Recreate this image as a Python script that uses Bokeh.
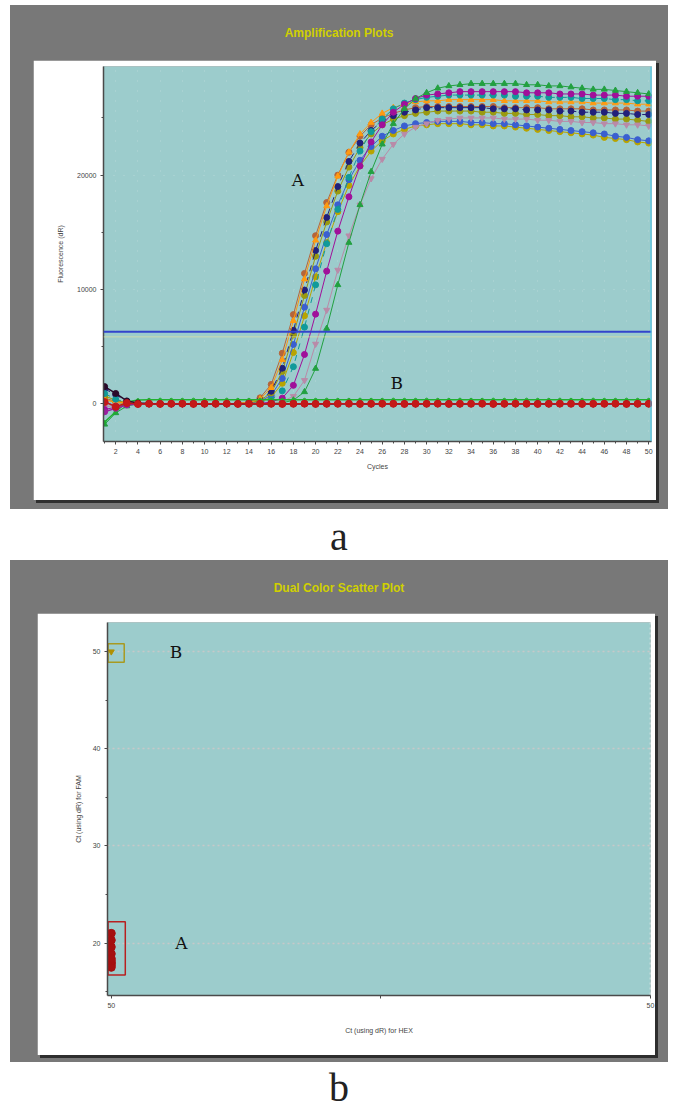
from bokeh.plotting import figure
from bokeh.models import Range1d, FixedTicker, Span, Label, Div, Spacer
from bokeh.layouts import column, row
from bokeh.embed import file_html
from bokeh.resources import INLINE

# ---------------- data: amplification plot ----------------
cycles = list(range(1, 51))
x_tick_labels = list(range(2, 51, 2))
y_ticks_amp = [0, 10000, 20000]
y_minor_amp = [5000, 15000, 25000]
threshold = 6300

orange = [350, 150, 60, 0, 0, 0, 0, 0, 0, 0,
          0, 0, 20, 120, 420, 1400, 3840, 7260, 10900, 14300,
          17300, 19900, 22000, 23600, 24600, 25400, 25900, 26200, 26400, 26500,
          26500, 26600, 26600, 26600, 26600, 26600, 26500, 26500, 26500, 26500,
          26400, 26400, 26400, 26400, 26300, 26300, 26300, 26300, 26200, 26200]
navy = [1300, 800, 200, 0, 0, 0, 0, 0, 0, 0,
        0, 0, 10, 90, 310, 1090, 3110, 6420, 9950, 13400,
        16300, 19000, 21200, 22800, 23900, 24700, 25200, 25500, 25700, 25900,
        25900, 25900, 25900, 25900, 25900, 25800, 25800, 25800, 25700, 25700,
        25700, 25600, 25600, 25500, 25500, 25500, 25400, 25400, 25300, 25300]
olive = [700, 300, 100, 0, 0, 0, 0, 0, 0, 0,
         0, 0, 10, 80, 280, 950, 2820, 6020, 9470, 12900,
         15900, 18600, 20700, 22400, 23600, 24400, 24900, 25200, 25400, 25500,
         25600, 25600, 25600, 25600, 25500, 25500, 25400, 25400, 25300, 25300,
         25200, 25200, 25100, 25100, 25000, 25000, 24900, 24900, 24800, 24700]
brown = [500, 200, 50, 0, 0, 0, 0, 0, 0, 0,
         0, 10, 40, 160, 520, 1690, 4420, 7800, 11400, 14700,
         17600, 20000, 22000, 23400, 24400, 25000, 25400, 25700, 25900, 26000,
         26000, 26000, 26000, 26000, 26000, 26000, 25900, 25900, 25900, 25900,
         25800, 25800, 25800, 25800, 25700, 25700, 25700, 25700, 25600, 25600]
teal = [900, 400, 100, 0, 0, 0, 0, 0, 0, 0,
        0, 0, 0, 10, 90, 320, 1130, 3240, 6700, 10400,
        14000, 17000, 19800, 22100, 23800, 24900, 25800, 26300, 26600, 26800,
        26900, 27000, 27000, 27000, 27000, 27000, 27000, 26900, 26900, 26900,
        26800, 26800, 26800, 26700, 26700, 26700, 26600, 26600, 26500, 26500]
magenta = [-500, -300, -50, 0, 0, 0, 0, 0, 0, 0,
           0, 0, 0, 0, 30, 150, 490, 1610, 4310, 7840,
           11600, 15100, 18100, 20800, 22900, 24400, 25500, 26200, 26700, 27000,
           27100, 27200, 27300, 27300, 27300, 27300, 27300, 27300, 27200, 27200,
           27200, 27100, 27100, 27100, 27000, 27000, 27000, 26900, 26900, 26900]
green = [-1800, -800, -200, 0, 0, 0, 0, 0, 0, 0,
         0, 0, 0, 0, 0, 10, 80, 310, 1040, 3080,
         6580, 10400, 14100, 17400, 20300, 22700, 24500, 25800, 26700, 27200,
         27600, 27800, 27900, 28000, 28000, 28000, 28000, 28000, 27900, 27900,
         27800, 27800, 27700, 27600, 27500, 27500, 27400, 27300, 27200, 27100]
blue = [200, -200, 0, 0, 0, 0, 0, 0, 0, 0,
        0, 0, 10, 60, 220, 740, 2220, 5190, 8450, 11800,
        14800, 17400, 19600, 21300, 22500, 23400, 23900, 24300, 24500, 24600,
        24700, 24700, 24700, 24600, 24600, 24500, 24500, 24400, 24300, 24200,
        24100, 24000, 23900, 23800, 23700, 23600, 23400, 23300, 23100, 23000]
yellow = [400, 100, 0, 0, 0, 0, 0, 0, 0, 0,
          0, 0, 10, 50, 170, 560, 1790, 4480, 7690, 11100,
          14100, 16800, 19100, 20800, 22100, 23000, 23600, 24000, 24300, 24400,
          24500, 24500, 24500, 24400, 24400, 24300, 24300, 24200, 24100, 24000,
          23900, 23800, 23700, 23600, 23500, 23300, 23200, 23100, 22900, 22800]
violet = [-300, -100, 0, 0, 0, 0, 0, 0, 0, 0,
          0, 0, 0, 0, 10, 50, 200, 650, 2050, 5230,
          8200, 11700, 14700, 17400, 19700, 21400, 22700, 23600, 24200, 24500,
          24800, 24900, 25000, 25000, 25000, 25000, 24900, 24900, 24900, 24800,
          24800, 24700, 24700, 24600, 24600, 24500, 24500, 24400, 24400, 24300]

b_green = [-1600, -700, 150, 320, 350, 360, 350, 350, 360, 350,
           350, 360, 350, 350, 360, 350, 350, 360, 350, 350,
           360, 350, 350, 360, 350, 350, 360, 350, 350, 360,
           350, 350, 360, 350, 350, 360, 350, 350, 360, 350,
           350, 360, 350, 350, 360, 350, 350, 360, 350, 350]
b_purple = [-700, -400, -100, -20, 0, 10, 0, -10, 0, 10,
            0, -10, 0, 10, 0, -10, 0, 10, 0, -10,
            0, 10, 0, -10, 0, 10, 0, -10, 0, 10,
            0, -10, 0, 10, 0, -10, 0, 10, 0, -10,
            0, 10, 0, -10, 0, 10, 0, -10, 0, 0]
b_dark = [1500, 900, 250, 60, 20, 0, 10, 0, -10, 0,
          10, 0, -10, 0, 10, 0, -10, 0, 10, 0,
          -10, 0, 10, 0, -10, 0, 10, 0, -10, 0,
          10, 0, -10, 0, 10, 0, -10, 0, 10, 0,
          -10, 0, 10, 0, -10, 0, 10, 0, -10, 0]
b_red = [150, -250, 60, -20, 10, -10, 0, 10, -10, 0,
         0, 10, -10, 0, 10, 0, -10, 0, 10, -10,
         0, 0, 10, -10, 0, 10, 0, -10, 0, 0,
         10, -10, 0, 0, 10, -10, 0, 10, 0, -10,
         0, 10, 0, -10, 0, 0, 10, -10, 0, 0]

# ---------------- data: dual colour scatter ----------------
hex_ct_a = [50, 50, 50, 50, 50, 50, 50, 50, 50, 50]
fam_ct_a = [17.7, 17.9, 18.0, 17.5, 18.9, 19.6, 21.0, 18.2, 18.4, 20.3]
hex_ct_b = [50]
fam_ct_b = [50]
y_ticks_dual = [20, 30, 40, 50]
y_minor_dual = [15, 25, 35, 45]
x_ticks_dual = [50, 50.5, 51]

# ---------------- styling ----------------
CYAN = "#9ccccc"
GRAY = "#787878"
AX = "#4a4a4a"
FONT = "Liberation Sans"


def style_axes(p):
    for ax in (p.xaxis[0], p.yaxis[0]):
        ax.axis_line_color = AX
        ax.axis_line_width = 1.5
        ax.major_tick_line_color = AX
        ax.minor_tick_line_color = AX
        ax.major_tick_in = 0
        ax.major_tick_out = 3
        ax.minor_tick_in = 0
        ax.minor_tick_out = 2
        ax.major_label_text_font = FONT
        ax.major_label_text_font_size = "7px"
        ax.major_label_text_color = "#444444"
        ax.axis_label_text_font = FONT
        ax.axis_label_text_font_size = "7px"
        ax.axis_label_text_font_style = "normal"
        ax.axis_label_text_color = "#444444"
        ax.major_label_standoff = 4


# ---------------- amplification plot ----------------
p1 = figure(width=623, height=440, x_range=Range1d(0.9, 50.25), y_range=Range1d(-3300, 29500),
            output_backend="svg", toolbar_location=None,
            min_border_left=70, min_border_right=5, min_border_top=6, min_border_bottom=59,
            background_fill_color=CYAN, border_fill_color="white",
            outline_line_color="#a9c2c2",
            styles={"box-shadow": "3px 3px 0 #2e2e2e"})
style_axes(p1)
p1.xaxis.ticker = FixedTicker(ticks=x_tick_labels, minor_ticks=cycles)
p1.yaxis.ticker = FixedTicker(ticks=y_ticks_amp, minor_ticks=y_minor_amp)
p1.xaxis.axis_label = "Cycles"
p1.yaxis.axis_label = "Fluorescence (dR)"
p1.xaxis.axis_label_standoff = 6
p1.yaxis.axis_label_standoff = 10
p1.xgrid.grid_line_color = "#c9e0e0"
p1.xgrid.grid_line_dash = "1 9"
p1.xgrid.grid_line_alpha = 0.6
p1.ygrid.grid_line_color = "#c9e0e0"
p1.ygrid.grid_line_dash = "1 9"
p1.ygrid.grid_line_alpha = 0.6

p1.add_layout(Span(location=threshold, dimension="width", line_color="#3344cc", line_width=2))
p1.add_layout(Span(location=threshold - 450, dimension="width", line_color="#e0e0a0",
                   line_width=1, line_alpha=0.7))
p1.add_layout(Span(location=p1.x_range.end, dimension="height", line_color="#44c8ee", line_width=2))

series_a = [
    (brown, "#b5653a", "circle", "solid"),
    (yellow, "#b8a400", "circle", "solid"),
    (blue, "#3a5fd0", "circle", "solid"),
    (olive, "#9a9a10", "circle", "solid"),
    (navy, "#22207a", "circle", "dashed"),
    (orange, "#ff9a10", "triangle", "solid"),
    (violet, "#b98aa8", "inverted_triangle", "solid"),
    (teal, "#109a9a", "circle", "dashed"),
    (magenta, "#a0109a", "circle", "solid"),
    (green, "#22a040", "triangle", "solid"),
]
for vals, col, mk, dash in series_a:
    p1.line(cycles, vals, line_color=col, line_width=1, line_dash=dash)
    p1.scatter(cycles, vals, marker=mk, size=6, fill_color=col, line_color=col)

series_b = [
    (b_green, "#20b030", "circle", 3),
    (b_purple, "#9b1fa0", "circle", 6),
    (b_dark, "#2a0a2a", "circle", 6),
    (b_red, "#c41818", "circle", 7),
]
for vals, col, mk, sz in series_b:
    p1.line(cycles, vals, line_color=col, line_width=1.5)
    p1.scatter(cycles, vals, marker=mk, size=sz, fill_color=col, line_color=col)

p1.add_layout(Label(x=18.4, y=19600, text="A", text_font="DejaVu Serif", text_font_size="17px",
                    text_color="#111111", text_align="center", text_baseline="middle"))
p1.add_layout(Label(x=27.3, y=1800, text="B", text_font="DejaVu Serif", text_font_size="17px",
                    text_color="#111111", text_align="center", text_baseline="middle"))

# ---------------- dual colour scatter ----------------
p2 = figure(width=618, height=442, x_range=Range1d(49.993, 51.0), y_range=Range1d(14.6, 53.0),
            output_backend="svg", toolbar_location=None,
            min_border_left=70, min_border_right=5, min_border_top=9, min_border_bottom=60,
            background_fill_color=CYAN, border_fill_color="white", outline_line_color=None,
            styles={"box-shadow": "3px 3px 0 #2e2e2e"})
style_axes(p2)
p2.xaxis.ticker = FixedTicker(ticks=x_ticks_dual)
p2.xaxis.major_label_overrides = {50.5: "", 51: "50"}
p2.yaxis.ticker = FixedTicker(ticks=y_ticks_dual, minor_ticks=y_minor_dual)
p2.xaxis.axis_label = "Ct (using dR) for HEX"
p2.yaxis.axis_label = "Ct (using dR) for FAM"
p2.xaxis.axis_label_standoff = 16
p2.yaxis.axis_label_standoff = 8
p2.xgrid.grid_line_color = None
p2.ygrid.grid_line_color = "#c8c8c8"
p2.ygrid.grid_line_dash = "2 3"
p2.ygrid.grid_line_width = 1.5
p2.add_layout(Span(location=p2.x_range.end, dimension="height", line_color="#eeeeee",
                   line_dash="2 3", line_width=1.5))

p2.quad(left=[min(hex_ct_a) - 0.006], right=[min(hex_ct_a) + 0.026],
        bottom=[min(fam_ct_a) - 0.8], top=[max(fam_ct_a) + 1.2],
        fill_color=None, line_color="#b82020", line_width=1.5)
p2.quad(left=[min(hex_ct_b) - 0.006], right=[min(hex_ct_b) + 0.024],
        bottom=[min(fam_ct_b) - 1.1], top=[max(fam_ct_b) + 0.8],
        fill_color=None, line_color="#a89a20", line_width=1.5)
p2.scatter(hex_ct_a, fam_ct_a, marker="circle", size=8, fill_color="#a51010", line_color="#a51010")
p2.scatter(hex_ct_b, fam_ct_b, marker="inverted_triangle", size=6, fill_color="#b09000",
           line_color="#b09000")

p2.add_layout(Label(x=50.12, y=50, text="B", text_font="DejaVu Serif", text_font_size="17px",
                    text_color="#111111", text_align="center", text_baseline="middle"))
p2.add_layout(Label(x=50.13, y=20, text="A", text_font="DejaVu Serif", text_font_size="17px",
                    text_color="#111111", text_align="center", text_baseline="middle"))

# ---------------- layout ----------------
def title_div(txt, h):
    return Div(text=('<div style="text-align:center;color:#d0d000;font-family:\'Liberation Sans\',Arial;'
                     'font-size:12px;font-weight:bold;padding-top:20px;width:658px">' + txt + '</div>'),
               width=658, height=h, margin=(0, 0, 0, 0))


def letter_div(txt, h, pad):
    return Div(text=('<div style="text-align:center;color:#222;font-family:\'Liberation Serif\';'
                     'font-size:40px;line-height:40px;padding-top:' + str(pad) + 'px;width:658px">'
                     + txt + '</div>'),
               width=658, height=h, margin=(0, 0, 0, 0))


panel_a = column(
    title_div("Amplification Plots", 55),
    row(Spacer(width=23, height=440, margin=(0, 0, 0, 0)), p1,
        Spacer(width=12, height=440, margin=(0, 0, 0, 0))),
    Spacer(width=658, height=9, margin=(0, 0, 0, 0)),
    styles={"background-color": GRAY},
)
panel_b = column(
    title_div("Dual Color Scatter Plot", 53),
    row(Spacer(width=27, height=442, margin=(0, 0, 0, 0)), p2,
        Spacer(width=13, height=442, margin=(0, 0, 0, 0))),
    Spacer(width=658, height=7, margin=(0, 0, 0, 0)),
    styles={"background-color": GRAY},
)

page = column(panel_a, letter_div("a", 51, 8), panel_b, letter_div("b", 38, 6),
              margin=(5, 0, 0, 10))

open("out.html", "w").write(file_html(page, INLINE))
